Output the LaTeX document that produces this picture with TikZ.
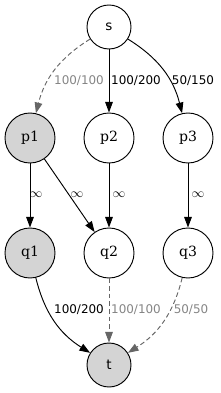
\documentclass[tikz,border=0pt]{standalone}
\usepackage{fontspec}
\setmainfont{DejaVu Serif}
\setsansfont{DejaVu Sans}
\usetikzlibrary{positioning,arrows.meta}
\definecolor{flowgray}{gray}{0.4}
\definecolor{nodegray}{gray}{0.83}

\begin{document}
\begin{tikzpicture}[
  lbl/.style={font=\sffamily\fontsize{10.2}{12}\selectfont, inner sep=1pt},
  glbl/.style={lbl, text=flowgray!80!white},
  inflbl/.style={font=\fontsize{11}{12}\selectfont, inner sep=1pt},
  stv/.style={circle, draw=black, line width=0.8pt, fill=white, minimum size=1.32cm, inner sep=0pt, font=\sffamily\fontsize{11.5}{13}\selectfont},
  midv/.style={circle, draw=black, line width=0.8pt, fill=white, minimum size=1.5cm, inner sep=0pt, font=\fontsize{12}{14}\selectfont},
  shaded/.style={fill=nodegray},
  flowedge/.style={draw=black, line width=0.8pt, -{Triangle[length=3.2mm, width=2.3mm]}},
  fulledge/.style={draw=flowgray, dash pattern=on 4pt off 2.5pt, line width=0.8pt, -{Triangle[length=3.2mm, width=2.3mm]}}
]
\useasboundingbox (0,0) rectangle (6.6,-11.79);

\node[stv] (s) at (3.27, -0.81) {s};
\node[midv, shaded] (p1) at (0.90, -4.14) {p1};
\node[midv] (p2) at (3.27, -4.14) {p2};
\node[midv] (p3) at (5.64, -4.14) {p3};
\node[midv, shaded] (q1) at (0.90, -7.59) {q1};
\node[midv] (q2) at (3.27, -7.59) {q2};
\node[midv] (q3) at (5.64, -7.59) {q3};
\node[stv, shaded] (t) at (3.27, -10.95) {t};

\draw[fulledge] (s) to[bend right=22] (p1);
\draw[flowedge] (s) -- (p2);
\draw[flowedge] (s) to[bend left=22] (p3);
\draw[flowedge] (p1) -- (q1);
\draw[flowedge] (p1) -- (q2);
\draw[flowedge] (p2) -- (q2);
\draw[flowedge] (p3) -- (q3);
\draw[flowedge] (q1) to[bend right=22] (t);
\draw[fulledge] (q2) -- (t);
\draw[fulledge] (q3) to[bend left=22] (t);

\node[glbl] at (2.37, -2.43) {100/100};
\node[lbl] at (4.08, -2.43) {100/200};
\node[lbl] at (5.79, -2.43) {50/150};
\node[inflbl] at (1.08, -5.85) {$\infty$};
\node[inflbl] at (2.31, -5.85) {$\infty$};
\node[inflbl] at (3.57, -5.85) {$\infty$};
\node[inflbl] at (5.94, -5.85) {$\infty$};
\node[lbl] at (2.37, -9.30) {100/200};
\node[glbl] at (4.08, -9.30) {100/100};
\node[glbl] at (5.73, -9.30) {50/50};

\end{tikzpicture}
\end{document}
